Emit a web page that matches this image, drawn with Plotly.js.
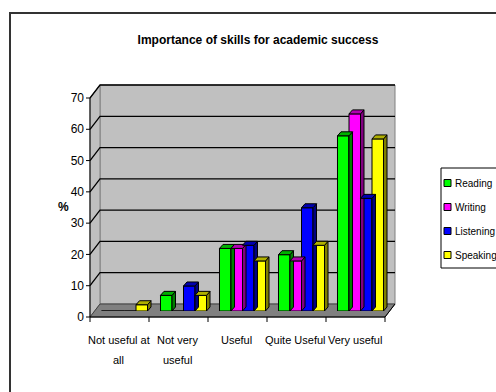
<!DOCTYPE html>
<html>
<head>
<meta charset="utf-8">
<script src="https://cdn.plot.ly/plotly-3.0.1.min.js"></script>
<style>
html,body{margin:0;padding:0;background:#fff;overflow:hidden;}
#chart{width:496px;height:392px;}
#frame{position:absolute;left:9px;top:12px;width:600px;height:500px;border:2px solid #333;pointer-events:none;}
</style>
</head>
<body>
<div id="chart"></div>
<div id="frame"></div>
<script>
const categories = ["Not useful at<br>all", "Not very<br>useful", "Useful", "Quite Useful", "Very useful"];
const reading   = [0, 5, 20, 18, 56];
const writing   = [0, 0, 20, 16, 63];
const listening = [0, 8, 21, 33, 36];
const speaking  = [2, 5, 16, 21, 55];
const seriesNames = ["Reading", "Writing", "Listening", "Speaking"];
const seriesColors = ["#00ff00", "#ff00ff", "#0000ff", "#ffff00"];
const sideColors = ["#008000", "#800080", "#000080", "#808000"];
const topColors = ["#00b000", "#b000b0", "#0000b0", "#b0b000"];
const seriesValues = [reading, writing, listening, speaking];
const yTicks = [0, 10, 20, 30, 40, 50, 60, 70];

const FONT = "'Liberation Sans', Arial, sans-serif";

// plot area = middle depth plane of the pseudo-3D box
const W = 496, H = 392, ML = 95, MR = 106, MT = 92, MB = 81;
const PW = W - ML - MR, PH = H - MT - MB;
const YMAX = 70;
const BARGAP = 0.22;
const nS = seriesNames.length;
const nC = categories.length;
const barW = (1 - BARGAP) / nS;
const dxU = 3.5 / (PW / nC);
const dyU = 4 / (PH / YMAX);
const FRONT = {dx: -5, dy: 6};   // front plane offset (px)
const BACK = {dx: 5, dy: -7};    // back plane offset (px)
const px2paperX = p => (p - ML) / PW;
const px2paperY = p => (H - MB - p) / PH;
const yPx = v => H - MB - v * PH / YMAX;
const xPx = u => ML + (u + 0.5) * PW / nC;
const P = (x, y) => `${px2paperX(x)},${px2paperY(y)}`;

const xIdx = categories.map((_, i) => i);

const data = seriesNames.map((name, i) => ({
  type: "bar",
  name: name,
  x: xIdx,
  y: seriesValues[i],
  marker: {color: seriesColors[i], line: {color: "#000", width: 1}},
  hoverinfo: "none",
  showlegend: false
}));

const shapes = [];
const L = xPx(-0.5), R = xPx(nC - 0.5), B0 = yPx(0), T0 = yPx(YMAX);
const fL = L + FRONT.dx, fR = R + FRONT.dx, fB = B0 + FRONT.dy, fT = T0 + FRONT.dy;
const bL = L + BACK.dx, bR = R + BACK.dx, bB = B0 + BACK.dy, bT = T0 + BACK.dy;

shapes.push({type: "path", xref: "paper", yref: "paper", layer: "below",
  path: `M${P(bL, bB)} L${P(bL, bT)} L${P(bR, bT)} L${P(bR, bB)} Z`,
  fillcolor: "#c0c0c0", line: {color: "#808080", width: 1}});
shapes.push({type: "path", xref: "paper", yref: "paper", layer: "below",
  path: `M${P(fL, fB)} L${P(fL, fT)} L${P(bL, bT)} L${P(bL, bB)} Z`,
  fillcolor: "#c0c0c0", line: {color: "#808080", width: 1}});
shapes.push({type: "path", xref: "paper", yref: "paper", layer: "below",
  path: `M${P(fL, fB)} L${P(fR, fB)} L${P(bR, bB)} L${P(bL, bB)} Z`,
  fillcolor: "#808080", line: {color: "#404040", width: 1}});
yTicks.forEach(t => {
  if (t === 0) return;
  const yf = yPx(t) + FRONT.dy, yb = yPx(t) + BACK.dy;
  shapes.push({type: "path", xref: "paper", yref: "paper", layer: "below",
    path: `M${P(fL, yf)} L${P(bL, yb)} L${P(bR, yb)}`,
    line: {color: "#000", width: 1.3}});
});
shapes.push({type: "line", xref: "paper", yref: "paper",
  x0: px2paperX(fL), x1: px2paperX(fL), y0: px2paperY(fB), y1: px2paperY(fT),
  line: {color: "#000", width: 1}});
shapes.push({type: "line", xref: "paper", yref: "paper",
  x0: px2paperX(fL), x1: px2paperX(fR), y0: px2paperY(fB), y1: px2paperY(fB),
  line: {color: "#000", width: 1}});
shapes.push({type: "line", xref: "paper", yref: "paper",
  x0: px2paperX(fR), x1: px2paperX(bR), y0: px2paperY(fB), y1: px2paperY(bB),
  line: {color: "#000", width: 1}});
yTicks.forEach(t => {
  const yf = yPx(t) + FRONT.dy;
  shapes.push({type: "line", xref: "paper", yref: "paper",
    x0: px2paperX(fL - 4), x1: px2paperX(fL), y0: px2paperY(yf), y1: px2paperY(yf),
    line: {color: "#000", width: 1}});
});
for (let k = 0; k <= nC; k++) {
  const xf = xPx(k - 0.5) + FRONT.dx;
  shapes.push({type: "line", xref: "paper", yref: "paper",
    x0: px2paperX(xf), x1: px2paperX(xf), y0: px2paperY(fB), y1: px2paperY(fB + 5),
    line: {color: "#000", width: 1}});
}

seriesValues.forEach((vals, s) => {
  vals.forEach((v, c) => {
    if (v <= 0) return;
    const left = c - (1 - BARGAP) / 2 + barW * s;
    const right = left + barW;
    shapes.push({type: "path", xref: "x", yref: "y",
      path: `M${right},0 L${right + dxU},${dyU} L${right + dxU},${v + dyU} L${right},${v} Z`,
      fillcolor: sideColors[s], line: {color: "#000", width: 1}, layer: "above"});
    shapes.push({type: "path", xref: "x", yref: "y",
      path: `M${left},${v} L${left + dxU},${v + dyU} L${right + dxU},${v + dyU} L${right},${v} Z`,
      fillcolor: topColors[s], line: {color: "#000", width: 1}, layer: "above"});
  });
});

const LX = 441, LT = 168, LB = 268, ROWS = [183, 207, 231, 255];
shapes.push({type: "rect", xref: "paper", yref: "paper",
  x0: px2paperX(LX), x1: px2paperX(560), y0: px2paperY(LB), y1: px2paperY(LT),
  fillcolor: "#fff", line: {color: "#000", width: 1}});
const annotations = [{
  text: "<b>%</b>", xref: "paper", yref: "paper", x: px2paperX(63), y: px2paperY(207),
  xanchor: "center", yanchor: "middle",
  showarrow: false, font: {family: FONT, size: 12}
}];
seriesNames.forEach((name, s) => {
  const cy = ROWS[s];
  shapes.push({type: "rect", xref: "paper", yref: "paper",
    x0: px2paperX(444), x1: px2paperX(451), y0: px2paperY(cy + 3.5), y1: px2paperY(cy - 3.5),
    fillcolor: seriesColors[s], line: {color: "#000", width: 1}});
  annotations.push({text: name, xref: "paper", yref: "paper",
    x: px2paperX(453), y: px2paperY(cy), xanchor: "left", yanchor: "middle",
    showarrow: false, font: {family: FONT, size: 10, color: "#000"}});
});

categories.forEach((label, c) => {
  label.split("<br>").forEach((line, k) => {
    annotations.push({text: line, xref: "x", yref: "paper", xshift: FRONT.dx - 1,
      x: c, y: px2paperY(340 + 20 * k), xanchor: "center", yanchor: "middle",
      showarrow: false, font: {family: FONT, size: 11, color: "#000"}});
  });
});

const layout = {
  width: W, height: H,
  margin: {l: ML, r: MR, t: MT, b: MB, pad: 0},
  paper_bgcolor: "#fff",
  plot_bgcolor: "rgba(0,0,0,0)",
  barmode: "group",
  bargap: BARGAP,
  bargroupgap: 0,
  showlegend: false,
  font: {family: FONT, size: 12, color: "#000"},
  title: {
    text: "<b>Importance of skills for academic success</b>",
    font: {family: FONT, size: 12, color: "#000"},
    x: 258 / W, xanchor: "center", y: 1 - 40 / H, yanchor: "middle", xref: "container", yref: "container"
  },
  xaxis: {
    range: [-0.5, nC - 0.5], tickvals: xIdx, showticklabels: false,
    showgrid: false, showline: false, ticks: "", fixedrange: true, zeroline: false
  },
  yaxis: {
    range: [0, YMAX], tickvals: yTicks, showgrid: false, showline: false, ticks: "",
    ticklabelshift: FRONT.dy, ticklabelstandoff: 10,
    tickfont: {family: FONT, size: 12}, zeroline: false, fixedrange: true
  },
  shapes: shapes,
  annotations: annotations
};

Plotly.newPlot("chart", data, layout, {displayModeBar: false, staticPlot: true});
</script>
</body>
</html>
